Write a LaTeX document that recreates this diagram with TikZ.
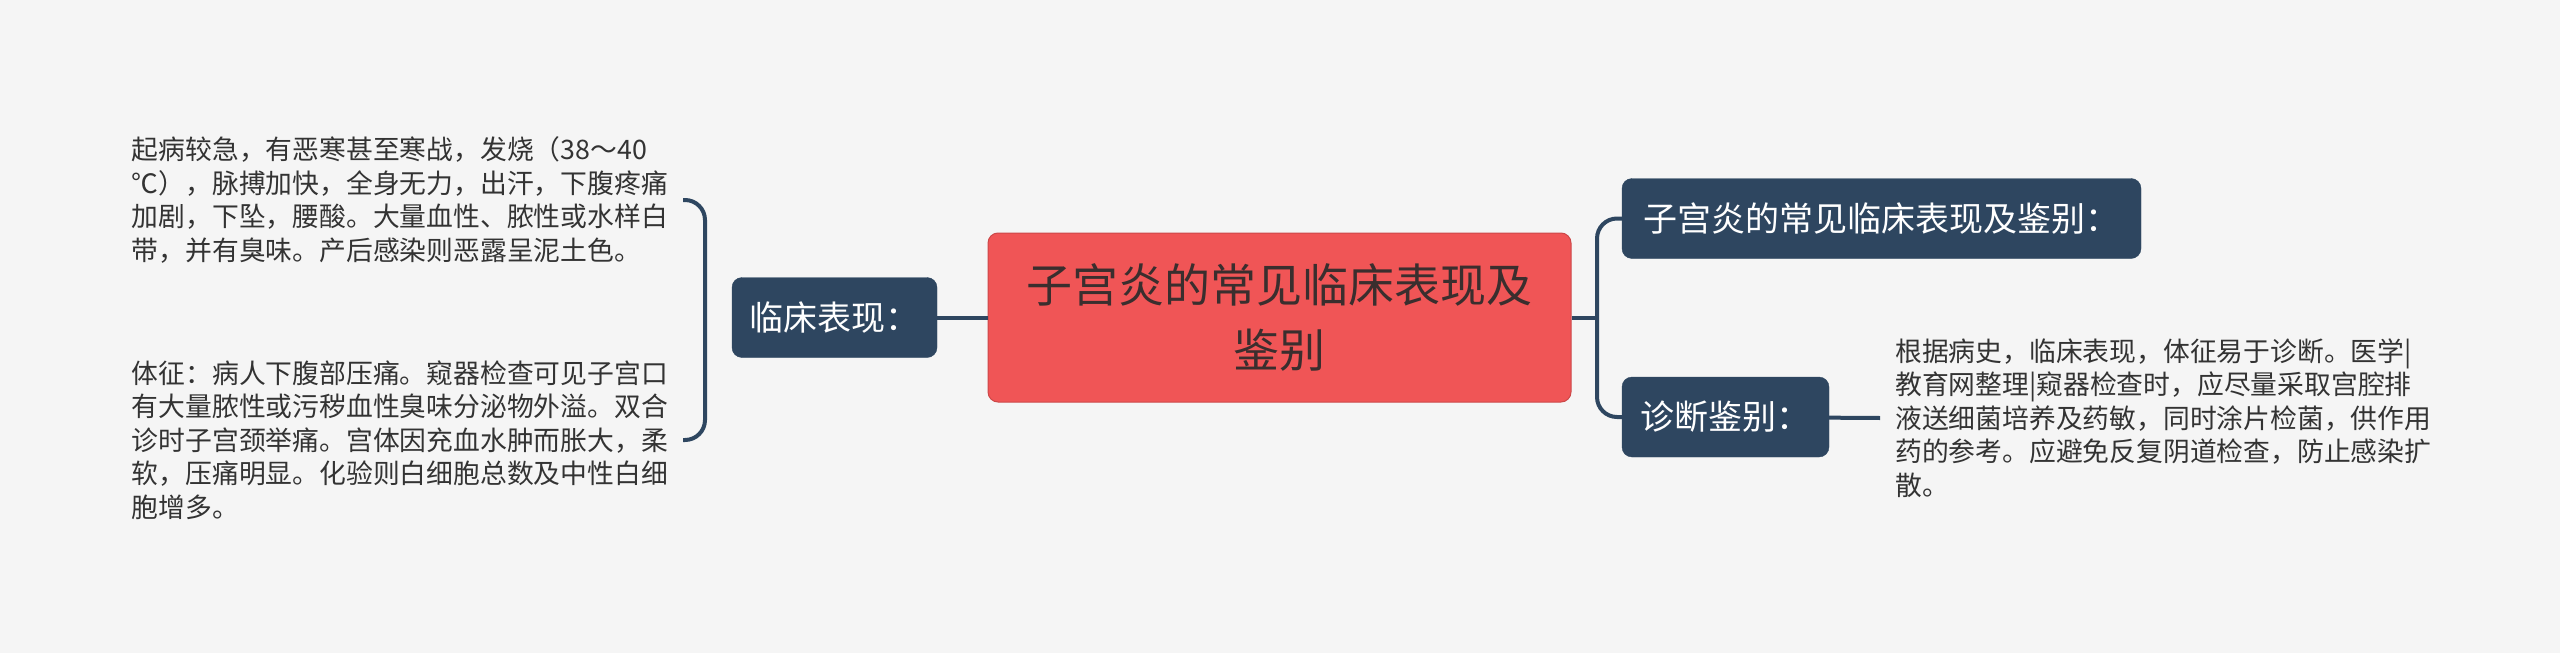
\documentclass[tikz,border=0pt]{standalone}
\usepackage{fontspec}
\setmainfont{Noto Sans CJK SC}
\usepackage{tikz}
\definecolor{bg}{HTML}{F5F5F5}
\definecolor{navy}{HTML}{2E4660}
\definecolor{coral}{HTML}{F05556}
\definecolor{ink}{HTML}{3A2E2E}
\definecolor{leaftext}{HTML}{333333}

\begin{document}
\begin{tikzpicture}[x=1pt,y=-1pt,
    link/.style={draw=navy,line width=4pt},
    topic/.style={fill=navy,draw=navy,rounded corners=10pt,text=white,
      font=\fontsize{34}{40}\selectfont,minimum height=80pt,inner sep=0pt},
    leaf/.style={text=leaftext,align=left,font=\fontsize{26.8}{33.6}\selectfont,
      inner xsep=15pt,inner ysep=0pt}]
\fill[bg] (0,0) rectangle (2560,653);
\useasboundingbox (0,0) rectangle (2560,653);
      \begin{scope}[shift={(0,0)}]
\node[fill=coral,draw=coral!85!black,line width=1pt,rounded corners=10pt,text=ink,
  minimum width=583pt,minimum height=169pt,align=center,
  font=\fontsize{46}{65}\selectfont] (root) at (1279.5,317.5) {子宫炎的常见临床表现及\\鉴别};
\node[topic,minimum width=205pt] (lc) at (834.5,317.5) {临床表现：};
\node[topic,minimum width=519pt] (r1) at (1881.5,218.5) {子宫炎的常见临床表现及鉴别：};
\node[topic,minimum width=207pt] (r2) at (1725.5,417) {诊断鉴别：};
\node[leaf,anchor=east] (l1) at (683,200) {起病较急，有恶寒甚至寒战，发烧（38～40\\℃），脉搏加快，全身无力，出汗，下腹疼痛\\加剧，下坠，腰酸。大量血性、脓性或水样白\\带，并有臭味。产后感染则恶露呈泥土色。};
\node[leaf,anchor=east] (l2) at (683,440) {体征：病人下腹部压痛。窥器检查可见子宫口\\有大量脓性或污秽血性臭味分泌物外溢。双合\\诊时子宫颈举痛。宫体因充血水肿而胀大，柔\\软，压痛明显。化验则白细胞总数及中性白细\\胞增多。};
\node[leaf,anchor=west] (r3) at (1880,418) {根据病史，临床表现，体征易于诊断。医学|\\教育网整理|窥器检查时，应尽量采取宫腔排\\液送细菌培养及药敏，同时涂片检菌，供作用\\药的参考。应避免反复阴道检查，防止感染扩\\散。};
\coordinate (lb) at (705,317.5);
\coordinate (rb) at (1597,317.5);
\draw[link] (root) -- (lc);
\draw[link,rounded corners=20pt] (l1.east) -| (lb) |- (l2.east);
\draw[link] (root) -- (rb);
\draw[link,rounded corners=20pt] (r1.west) -| (rb) |- (r2.west);
\draw[link] (r2) -- (r3.west);
\end{scope}
    \end{tikzpicture}
\end{document}
